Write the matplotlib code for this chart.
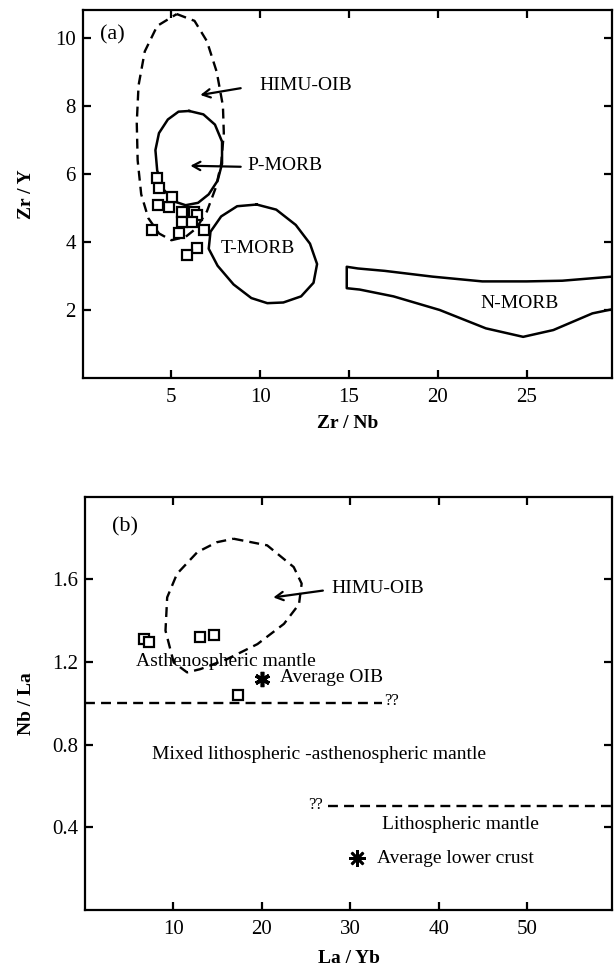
import numpy as np
import matplotlib.pyplot as plt

# fonts: Times-like serif as in the printed figure
plt.rcParams['font.family'] = ['Liberation Serif', 'DejaVu Serif']
plt.rcParams['mathtext.fontset'] = 'stix'

# ---- panel (a): Zr/Nb vs Zr/Y ----
zr_nb = [4.2, 4.29, 4.23, 4.85, 5.04, 5.6, 6.25, 6.44, 5.6, 6.16, 5.41, 3.92, 6.82, 6.44, 5.88]
zr_y = [5.87, 5.58, 5.09, 5.04, 5.33, 4.89, 4.89, 4.79, 4.6, 4.6, 4.26, 4.35, 4.35, 3.81, 3.62]

himu_a_x = [5.3, 6.3, 7.0, 7.55, 7.9, 7.95, 7.8, 7.5, 7.0, 6.4, 5.8, 5.0, 4.3, 3.7,
            3.3, 3.1, 3.05, 3.15, 3.5, 4.2, 5.3]
himu_a_y = [10.7, 10.5, 9.9, 9.0, 8.0, 7.2, 6.3, 5.6, 4.9, 4.4, 4.15, 4.05, 4.25, 4.7,
            5.4, 6.4, 7.5, 8.6, 9.6, 10.35, 10.7]

pmorb_x = [6.0, 6.8, 7.45, 7.85, 7.85, 7.6, 7.1, 6.5, 5.8, 5.1, 4.55, 4.2, 4.1, 4.3, 4.8, 5.4, 6.0]
pmorb_y = [7.85, 7.75, 7.45, 6.95, 6.3, 5.8, 5.4, 5.15, 5.08, 5.2, 5.55, 6.1, 6.7, 7.2, 7.6, 7.83, 7.85]

tmorb_x = [9.8, 10.9, 12.0, 12.8, 13.2, 13.0, 12.3, 11.3, 10.4, 9.5, 8.5, 7.6, 7.1, 7.2, 7.8, 8.7, 9.8]
tmorb_y = [5.1, 4.95, 4.5, 3.95, 3.35, 2.8, 2.4, 2.22, 2.2, 2.35, 2.75, 3.3, 3.8, 4.3, 4.75, 5.05, 5.1]

nmorb_x = [29.8, 27.0, 25.0, 22.5, 19.7, 17.0, 15.5, 14.87, 14.87, 15.6, 17.5, 20.1, 22.7,
           24.8, 26.5, 28.7, 29.8]
nmorb_y = [2.98, 2.86, 2.84, 2.84, 2.98, 3.15, 3.22, 3.27, 2.64, 2.6, 2.4, 2.0, 1.46,
           1.21, 1.41, 1.9, 2.02]

# ---- panel (b): La/Yb vs Nb/La ----
la_yb = [6.65, 7.2, 13.05, 14.55, 17.3]
nb_la = [1.312, 1.295, 1.32, 1.332, 1.041]

himu_b_x = [16.8, 20.6, 23.6, 24.5, 24.2, 22.5, 19.5, 16.1, 13.05, 11.55, 10.03, 9.1,
            9.29, 10.4, 12.7, 14.9, 16.8]
himu_b_y = [1.797, 1.765, 1.66, 1.58, 1.48, 1.385, 1.287, 1.215, 1.166, 1.15, 1.198,
            1.352, 1.513, 1.627, 1.732, 1.78, 1.797]

avg_oib = (20.0, 1.117)
avg_lower_crust = (30.75, 0.251)

fig = plt.figure(figsize=(6.14, 9.76), dpi=100)
ax1 = fig.add_axes([0.1345, 0.6127, 0.8622, 0.3771])
ax2 = fig.add_axes([0.1385, 0.0676, 0.8582, 0.4234])

dash = (0, (4.2, 2.6))
fs_ann = 14


def style_axes(ax):
    for s in ax.spines.values():
        s.set_linewidth(1.6)
    ax.tick_params(direction='in', length=6, width=1.6, top=True, right=True,
                   labelsize=15, pad=5)
    ax.tick_params(axis='x', pad=7)


# (a)
ax1.plot(himu_a_x, himu_a_y, color='black', lw=1.7, ls=dash)
ax1.plot(pmorb_x, pmorb_y, color='black', lw=1.8)
ax1.plot(tmorb_x, tmorb_y, color='black', lw=1.8)
ax1.plot(nmorb_x, nmorb_y, color='black', lw=1.8, clip_on=True)
ax1.plot(zr_nb, zr_y, ls='none', marker='s', ms=7, mfc='white', mec='black', mew=1.6)

arrow = dict(arrowstyle='->,head_length=0.55,head_width=0.3', lw=1.6, color='black',
             shrinkA=0, shrinkB=0)
ax1.annotate('', xy=(6.63, 8.32), xytext=(8.9, 8.52), arrowprops=arrow)
ax1.text(9.95, 8.6, 'HIMU-OIB', fontsize=fs_ann, va='center')
ax1.annotate('', xy=(6.07, 6.24), xytext=(8.9, 6.21), arrowprops=arrow)
ax1.text(9.25, 6.24, 'P-MORB', fontsize=fs_ann, va='center')
ax1.text(7.75, 3.8, 'T-MORB', fontsize=fs_ann, va='center')
ax1.text(22.4, 2.2, 'N-MORB', fontsize=fs_ann, va='center')
ax1.text(1.0, 10.08, '(a)', fontsize=16, va='center')

ax1.set_xlim(0, 29.8)
ax1.set_ylim(0, 10.82)
ax1.set_xticks([5, 10, 15, 20, 25])
ax1.set_yticks([2, 4, 6, 8, 10])
ax1.set_xlabel('Zr / Nb', fontsize=14, fontweight='bold', labelpad=6)
ax1.set_ylabel('Zr / Y', fontsize=14, fontweight='bold', labelpad=14)
style_axes(ax1)

# (b)
ax2.plot(himu_b_x, himu_b_y, color='black', lw=1.7, ls=dash)
ax2.plot([0, 33.6], [1.0, 1.0], color='black', lw=1.7, ls=dash)
ax2.plot([27.5, 59.6], [0.502, 0.502], color='black', lw=1.7, ls=dash)
ax2.plot(la_yb, nb_la, ls='none', marker='s', ms=7, mfc='white', mec='black', mew=1.6)
ax2.plot(*avg_oib, ls='none', marker=(6, 2, 0), ms=11, mec='black', mew=2.6)
ax2.plot(*avg_lower_crust, ls='none', marker=(8, 2, 0), ms=12, mec='black', mew=1.9)

ax2.annotate('', xy=(21.3, 1.513), xytext=(26.9, 1.546), arrowprops=arrow)
ax2.text(27.9, 1.555, 'HIMU-OIB', fontsize=fs_ann, va='center')
ax2.text(5.8, 1.205, 'Asthenospheric mantle', fontsize=fs_ann, va='center')
ax2.text(22.1, 1.125, 'Average OIB', fontsize=fs_ann, va='center')
ax2.text(33.8, 1.012, '??', fontsize=12, va='center')
ax2.text(7.6, 0.753, 'Mixed lithospheric -asthenospheric mantle', fontsize=fs_ann, va='center')
ax2.text(25.2, 0.51, '??', fontsize=12, va='center')
ax2.text(33.6, 0.414, 'Lithospheric mantle', fontsize=fs_ann, va='center')
ax2.text(33.0, 0.251, 'Average lower crust', fontsize=fs_ann, va='center')
ax2.text(3.0, 1.853, '(b)', fontsize=16, va='center')

ax2.set_xlim(0, 59.6)
ax2.set_ylim(0, 2.0)
ax2.set_xticks([10, 20, 30, 40, 50])
ax2.set_yticks([0.4, 0.8, 1.2, 1.6])
ax2.set_xlabel('La / Yb', fontsize=14, fontweight='bold', labelpad=8)
ax2.set_ylabel('Nb / La', fontsize=14, fontweight='bold', labelpad=12)
style_axes(ax2)

fig.savefig('out.png', dpi=100)
